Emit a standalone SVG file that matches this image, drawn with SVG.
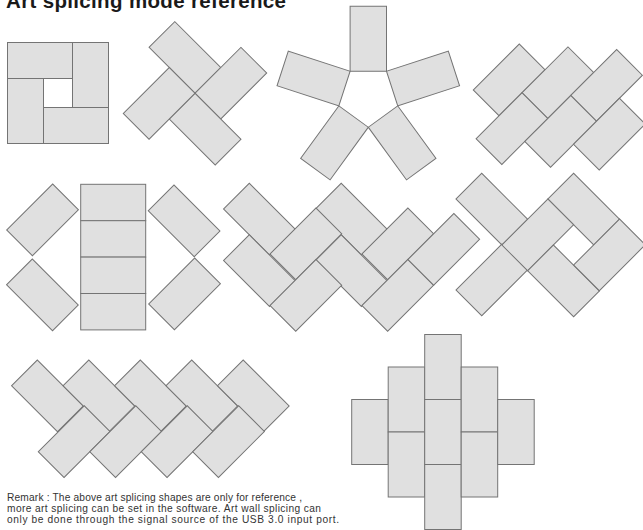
<svg xmlns="http://www.w3.org/2000/svg" xmlns:xlink="http://www.w3.org/1999/xlink" width="643" height="530" viewBox="0 0 643 530">
<style>
.t{fill:#e0e0e0;stroke:#747474;stroke-width:1}
.title{font-family:"Liberation Sans",Arial,sans-serif;font-weight:bold;font-size:20.5px;fill:#1a1a1a}
.rem{font-family:"Liberation Sans",Arial,sans-serif;font-size:10.2px;fill:#333}
</style>
<defs>
<rect id="h" width="65" height="36.4"/>
<rect id="v" width="36.5" height="65"/>
</defs>
<rect width="643" height="530" fill="#fff"/>
<text class="title" x="6" y="7.5" textLength="280">Art splicing mode reference</text>

<g id="pinwheel-square">
<rect class="t" x="7.5" y="42.5" width="65" height="36"/>
<rect class="t" x="72.5" y="42.5" width="36" height="65"/>
<rect class="t" x="43.5" y="107.5" width="65" height="36"/>
<rect class="t" x="7.5" y="78.5" width="36" height="65"/>
</g>

<g id="pinwheel-cross">
<use href="#h" class="t" transform="translate(174.8 21.6) rotate(45)"/>
<use href="#h" class="t" transform="translate(195 93.3) rotate(-45)"/>
<use href="#h" class="t" transform="translate(195 93.3) rotate(45)"/>
<use href="#h" class="t" transform="translate(123.3 113.5) rotate(-45)"/>
</g>

<g id="star" transform="translate(368.3 96.3)">
<rect class="t" x="-18.2" y="-90.05" width="36.4" height="65"/>
<rect class="t" x="-18.2" y="-90.05" width="36.4" height="65" transform="rotate(72)"/>
<rect class="t" x="-18.2" y="-90.05" width="36.4" height="65" transform="rotate(144)"/>
<rect class="t" x="-18.2" y="-90.05" width="36.4" height="65" transform="rotate(216)"/>
<rect class="t" x="-18.2" y="-90.05" width="36.4" height="65" transform="rotate(288)"/>
</g>

<g id="brick-diagonal">
<use href="#h" class="t" transform="translate(473.3 90) rotate(-45)"/>
<use href="#h" class="t" transform="translate(522 92.8) rotate(-45)"/>
<use href="#h" class="t" transform="translate(570.7 95.5) rotate(-45)"/>
<use href="#h" class="t" transform="translate(476.1 138.7) rotate(-45)"/>
<use href="#h" class="t" transform="translate(524.8 141.5) rotate(-45)"/>
<use href="#h" class="t" transform="translate(573.5 144.2) rotate(-45)"/>
</g>

<g id="column-wings">
<use href="#h" class="t" x="80.7" y="184.3"/>
<use href="#h" class="t" x="80.7" y="220.7"/>
<use href="#h" class="t" x="80.7" y="257.1"/>
<use href="#h" class="t" x="80.7" y="293.5"/>
<use href="#h" class="t" transform="translate(6.7 230) rotate(-45)"/>
<use href="#h" class="t" transform="translate(32.3 259) rotate(45)"/>
<use href="#h" class="t" transform="translate(174 185) rotate(45)"/>
<use href="#h" class="t" transform="translate(148.7 304) rotate(-45)"/>
</g>

<g id="herringbone-w">
<use href="#h" class="t" transform="translate(249.3 183.3) rotate(45)"/>
<use href="#h" class="t" transform="translate(249.3 234.8) rotate(45)"/>
<use href="#h" class="t" transform="translate(341.2 183.3) rotate(45)"/>
<use href="#h" class="t" transform="translate(341.2 234.8) rotate(45)"/>
<use href="#h" class="t" transform="translate(270 254) rotate(-45)"/>
<use href="#h" class="t" transform="translate(270 305.5) rotate(-45)"/>
<use href="#h" class="t" transform="translate(361.9 254) rotate(-45)"/>
<use href="#h" class="t" transform="translate(361.9 305.5) rotate(-45)"/>
<use href="#h" class="t" transform="translate(407.9 259.5) rotate(-45)"/>
</g>

<g id="woven-hole">
<use href="#h" class="t" transform="translate(481.7 173.3) rotate(45)"/>
<use href="#h" class="t" transform="translate(573.6 173.3) rotate(45)"/>
<use href="#h" class="t" transform="translate(456 290) rotate(-45)"/>
<use href="#h" class="t" transform="translate(501.9 245) rotate(-45)"/>
<use href="#h" class="t" transform="translate(553.4 245) rotate(45)"/>
<use href="#h" class="t" transform="translate(573.6 265) rotate(-45)"/>
</g>

<g id="herringbone-row">
<use href="#h" class="t" transform="translate(37.3 360) rotate(45)"/>
<use href="#h" class="t" transform="translate(88.8 360) rotate(45)"/>
<use href="#h" class="t" transform="translate(140.3 360) rotate(45)"/>
<use href="#h" class="t" transform="translate(191.7 360) rotate(45)"/>
<use href="#h" class="t" transform="translate(243.2 360) rotate(45)"/>
<use href="#h" class="t" transform="translate(38.3 451.7) rotate(-45)"/>
<use href="#h" class="t" transform="translate(89.8 451.7) rotate(-45)"/>
<use href="#h" class="t" transform="translate(141.3 451.7) rotate(-45)"/>
<use href="#h" class="t" transform="translate(192.7 451.7) rotate(-45)"/>
</g>

<g id="diamond-stack">
<use href="#v" class="t" x="351.7" y="399.5"/>
<use href="#v" class="t" x="388.2" y="367"/>
<use href="#v" class="t" x="388.2" y="432"/>
<use href="#v" class="t" x="424.7" y="334.5"/>
<use href="#v" class="t" x="424.7" y="399.5"/>
<use href="#v" class="t" x="424.7" y="464.5"/>
<use href="#v" class="t" x="461.2" y="367"/>
<use href="#v" class="t" x="461.2" y="432"/>
<use href="#v" class="t" x="497.7" y="399.5"/>
</g>

<g id="remark">
<text class="rem" x="7" y="501" textLength="295">Remark : The above art splicing shapes are only for reference ,</text>
<text class="rem" x="7" y="512" textLength="314">more art splicing can be set in the software. Art wall splicing can</text>
<text class="rem" x="7" y="523" textLength="332">only be done through the signal source of the USB 3.0 input port.</text>
</g>
</svg>
